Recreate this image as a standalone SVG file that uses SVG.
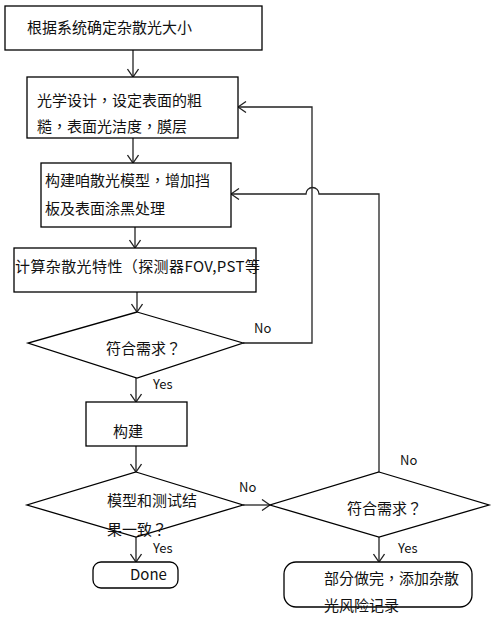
<svg xmlns="http://www.w3.org/2000/svg" width="493" height="619" viewBox="0 0 493 619">
<defs>
<style>
.n{fill:#fff;stroke:#000;stroke-width:1.3}
.c{fill:none;stroke:#222;stroke-width:1.3}
text{font-family:"Noto Sans CJK TC","Noto Sans CJK SC","Noto Sans",sans-serif;font-size:15px;fill:#111}
.sc{font-family:"Noto Sans CJK SC","Noto Sans",sans-serif}
.l{font-size:13px}
</style>
<marker id="a" markerWidth="10" markerHeight="12" refX="9" refY="6" orient="auto" markerUnits="userSpaceOnUse">
<path d="M1,0.5 L9,6 L1,11.5" fill="none" stroke="#222" stroke-width="1.3"/>
</marker>
</defs>
<rect width="493" height="619" fill="#fff"/>
<g id="connectors">
<line class="c" x1="133" y1="50" x2="133" y2="77" marker-end="url(#a)"/>
<line class="c" x1="133" y1="138" x2="133" y2="163" marker-end="url(#a)"/>
<line class="c" x1="135" y1="227" x2="135" y2="248" marker-end="url(#a)"/>
<line class="c" x1="137" y1="292" x2="137" y2="312" marker-end="url(#a)"/>
<line class="c" x1="136" y1="378" x2="136" y2="402" marker-end="url(#a)"/>
<line class="c" x1="136" y1="446" x2="136" y2="472" marker-end="url(#a)"/>
<line class="c" x1="136" y1="537" x2="136" y2="562" marker-end="url(#a)"/>
<line class="c" x1="243" y1="505" x2="270" y2="505" marker-end="url(#a)"/>
<line class="c" x1="379" y1="537" x2="379" y2="562" marker-end="url(#a)"/>
<path class="c" d="M243,343 H312 V107 H238" marker-end="url(#a)"/>
<path class="c" d="M379,472 V194 H319 A6.5,6.5 0 0 0 306,194 H231" marker-end="url(#a)"/>
<text class="l" x="254" y="333">No</text>
<text class="l" x="153" y="389">Yes</text>
<text class="l" x="239" y="492">No</text>
<text class="l" x="400" y="465">No</text>
<text class="l" x="153" y="553">Yes</text>
<text class="l" x="398" y="553">Yes</text>
</g>
<g id="n1"><rect class="n" x="5" y="6" width="257" height="44"/><text x="27" y="33">根据系统确定杂散光大小</text></g>
<g id="n2"><rect class="n" x="27" y="77" width="211" height="61"/><text x="37" y="106">光学设计，设定表面的粗</text><text x="37" y="132">糙，表面光洁度，膜层</text></g>
<g id="n3"><rect class="n" x="41" y="163" width="190" height="64"/><text x="45" y="186">构建咱散光模型，增加挡</text><text x="45" y="214">板及表面涂黑处理</text></g>
<g id="n4"><rect class="n" x="14" y="248" width="242" height="44"/><text class="sc" x="15" y="272" letter-spacing="0.4">计算杂散光特性（探测器FOV,PST等</text></g>
<g id="d1"><polygon class="n" points="137,312 243,343 137,378 28,343"/><text x="106" y="354">符合需求？</text></g>
<g id="n5"><rect class="n" x="86" y="402" width="101" height="44"/><text x="113" y="437">构建</text></g>
<g id="d2"><polygon class="n" points="136,472 243,505 136,537 27,505"/><text x="107" y="506">模型和测试结</text><text x="107" y="535">果一致？</text></g>
<g id="d3"><polygon class="n" points="379,472 489,505 379,537 270,505"/><text x="347" y="514">符合需求？</text></g>
<g id="done"><rect class="n" x="93" y="562" width="85" height="26" rx="8"/><text x="130" y="580" font-size="13">Done</text></g>
<g id="n6"><rect class="n" x="284" y="562" width="188" height="45" rx="12"/><text x="324" y="584">部分做完，添加杂散</text><text x="324" y="611">光风险记录</text></g>
</svg>
